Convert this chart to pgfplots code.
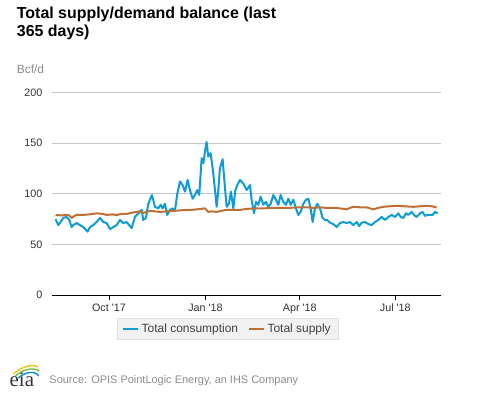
\documentclass[border=0pt]{standalone}
\usepackage{pgfplots}
\pgfplotsset{compat=1.18}
\usepackage{fontspec}
\setmainfont{Liberation Sans}
\newfontfamily\eiaserif{Liberation Serif}
\definecolor{cblue}{RGB}{14,155,214}
\definecolor{corange}{RGB}{190,112,52}
\definecolor{eiayellow}{RGB}{240,196,30}
\definecolor{eiagreen}{RGB}{120,190,70}
\definecolor{eiablue}{RGB}{20,140,200}
\begin{document}
\begin{tikzpicture}
\path (-52.3bp,-98bp) rectangle (424.7bp,295bp);
\begin{axis}[
  scale only axis, width=388.4bp, height=202.7bp,
  xmin=-54, xmax=316.3, ymin=0, ymax=200,
  enlargelimits=false,
  axis x line=bottom, axis y line=left,
  x axis line style={-, draw=black, line width=0.8bp},
  y axis line style={draw=none},
  xtick={0,92,182,273},
  xticklabels={Oct \textquotesingle17, Jan \textquotesingle18, Apr \textquotesingle18, Jul \textquotesingle18},
  ytick={0,50,100,150,200},
  ymajorgrids, grid style={draw=black!22, line width=0.8bp},
  xtick style={draw=black, line width=0.8bp}, ytick style={draw=none},
  tick align=outside, major tick length=5bp,
  tick label style={font=\fontsize{10.8}{12}\selectfont, text=black!80},
  yticklabel style={xshift=-1.5bp},
  /pgf/number format/assume math mode=true,
  legend style={at={(0.451,-0.168)}, anchor=center, fill=black!5, draw=black!12,
    font=\fontsize{12}{14}\selectfont, text=black!75,
    /tikz/every even column/.append style={column sep=8bp},
    inner xsep=5bp, inner ysep=3.5bp},
  legend columns=2,
  legend image code/.code={\draw[#1, line width=2.5bp] (0bp,0bp) -- (15bp,0bp);},
]
\addplot[cblue, line width=2bp, line join=round] coordinates {
(-50.9,74.7) (-48.3,69) (-46.1,72) (-43.5,76) (-40.4,77) (-37.8,74) (-35.6,67) (-34.0,69)
(-30.8,71) (-27.7,69) (-24.5,67) (-20.3,62.5) (-18.1,67) (-14.9,69) (-11.8,72) (-8.6,76)
(-5.4,72) (-2.2,71) (1.0,65) (4.1,67) (7.3,69) (10.5,74) (13.7,71) (16.8,72) (21.6,66)
(24.8,77) (28.0,80.6) (31.2,84) (32.7,74) (35.3,76) (37.5,90) (41.0,98.7) (43.9,87)
(47.0,85.5) (49.3,89) (51.2,85.5) (53.4,90) (55.6,79) (58.2,84) (60.7,85.5) (62.9,83)
(65.2,100) (67.7,112) (70.2,108.5) (72.5,102) (75.0,113.5) (77.2,103.6) (79.8,95)
(82.0,98.7) (84.2,103.6) (86.1,98.7) (88.4,135) (90.0,130) (91.5,141) (93.1,151)
(94.7,136.5) (96.9,140) (98.9,125) (101.1,103.6) (102.7,87) (104.3,103.6) (105.8,125)
(108.4,134) (110.0,113.5) (112.2,87) (114.4,90) (116.3,102) (118.6,85.5) (120.5,103.6)
(122.4,108.5) (124.9,113.5) (128.1,110) (131.3,103.6) (134.5,108.5) (136.0,94) (138.3,80.6)
(140.2,92) (142.4,89) (144.6,97) (147.2,89) (149.7,92) (151.9,87) (154.2,90) (156.7,98.7)
(159.2,94) (161.5,89) (163.7,98.7) (166.2,92) (168.8,89) (171.0,95) (173.2,89) (175.8,94)
(178.3,85.5) (180.5,79) (182.8,82) (185.3,90) (187.9,94) (190.1,95) (192.3,85.5) (194.2,72)
(196.4,85.5) (198.7,90) (201.2,85.5) (203.7,76) (206.0,74) (208.2,74) (210.7,71.4)
(213.9,70) (217.1,67) (220.3,71) (223.5,72) (226.6,71) (229.8,72) (233.0,69) (236.2,72)
(238.7,68) (240.9,71.4) (244.1,72) (247.3,70) (250.5,69) (253.6,72) (256.8,74) (260.0,77)
(263.2,74) (266.4,77) (269.5,79) (272.7,77) (275.9,80.6) (278.1,77) (280.7,76) (283.2,80.6)
(285.4,79) (288.6,82) (290.8,79) (293.4,77) (296.6,80.6) (299.1,82) (301.3,78) (303.5,79)
(306.1,79) (308.6,79) (310.9,82) (313.4,80.6)
};
\addlegendentry{Total consumption}
\addplot[corange, line width=2bp, line join=round] coordinates {
(-50.9,79) (-45,78.5) (-40.4,79) (-37.8,78.5) (-35.6,76) (-33,78) (-30.8,79) (-25,79)
(-18.1,79.6) (-11.8,80.6) (-6,80) (-2.2,79) (3,79.5) (7.3,79) (12,80) (16.8,80) (21,81)
(26.4,82) (29,82.5) (32.7,81) (36,82) (39,83) (44,82.5) (48.6,82) (55,82.5) (61.3,83)
(68,83.5) (74,84) (79,84) (83.6,84.5) (88,85) (91.5,85.5) (94.7,82) (98,82.5) (102.7,82)
(107,83) (112.2,84) (118,84) (124.9,84) (132,85) (140,85.5) (148,85.5) (156.7,86) (165,86)
(172.6,86) (180,86.5) (188.5,86.5) (195,86) (201.2,86.5) (207,86) (213.9,86) (220,85.5)
(226.6,84.5) (230,86) (233,87) (240,86.5) (245.7,86.5) (252,84.5) (257,86) (261.6,87)
(267,87.5) (274.3,88) (282,87.5) (290.2,87) (296,87.5) (302.9,88) (308,87.5) (312.4,86.5)
};
\addlegendentry{Total supply}
\end{axis}
\node[anchor=base west, inner sep=0pt, font=\fontsize{16}{19}\selectfont\bfseries] at (-35.6bp,276.7bp) {Total supply/demand balance (last};
\node[anchor=base west, inner sep=0pt, font=\fontsize{16}{19}\selectfont\bfseries] at (-35.6bp,258.2bp) {365 days)};
\node[anchor=base west, inner sep=0pt, font=\fontsize{12}{14}\selectfont, text=black!45] at (-35.6bp,221bp) {Bcf/d};
\node[anchor=base west, inner sep=0pt, font=\fontsize{11}{13}\selectfont, text=black!45] at (-3bp,-88.3bp) {Source: OPIS PointLogic Energy, an IHS Company};
\node[anchor=base west, inner sep=0pt, font=\eiaserif\fontsize{21}{22}\selectfont, text=black!80] at (-42.8bp,-91.5bp) {eia};
\draw[eiayellow, line width=1.4bp] (-39bp,-79bp) .. controls (-30bp,-71bp) and (-20bp,-69bp) .. (-14bp,-72bp);
\draw[eiagreen, line width=1.4bp] (-37bp,-81bp) .. controls (-29bp,-74bp) and (-19bp,-72bp) .. (-13bp,-76bp);
\draw[eiablue, line width=1.4bp] (-34bp,-83bp) .. controls (-27bp,-77bp) and (-18bp,-75bp) .. (-13.5bp,-81bp);
\end{tikzpicture}
\end{document}
